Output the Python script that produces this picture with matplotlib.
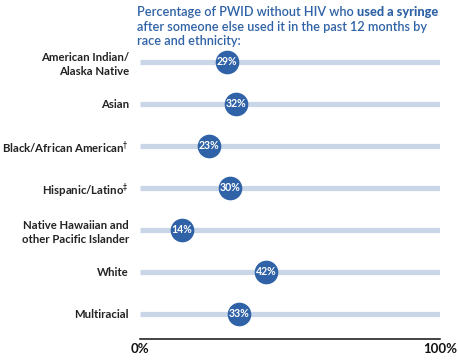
import matplotlib
matplotlib.use("Agg")
from matplotlib import pyplot as plt

plt.rcParams['font.family'] = ['Lato', 'DejaVu Sans']

groups = ["American Indian/\nAlaska Native", "Asian", "Black/African American$^{\u2020}$",
          "Hispanic/Latino$^{\u2021}$", "Native Hawaiian and\nother Pacific Islander",
          "White", "Multiracial"]
values = [29, 32, 23, 30, 14, 42, 33]
tick_pos = [0, 100]
tick_labels = ["0%", "100%"]

blue = '#2f62a6'
track = '#c9d6e7'

fig = plt.figure(figsize=(4.58, 3.6), dpi=100)
ax = fig.add_axes([140 / 458, 21 / 360, 300 / 458, 299 / 360])

rows = list(range(len(groups)))
for r, v in zip(rows, values):
    ax.plot([0, 100], [r, r], color=track, lw=3.8, solid_capstyle='butt', zorder=1)
ax.scatter(values, rows, s=290, color=blue, zorder=3, linewidths=0)
for r, v in zip(rows, values):
    ax.text(v, r, f"{v}%", color='white', fontsize=7.6, fontweight='bold',
            ha='center', va='center', zorder=4)

ax.set_xlim(0, 100)
ax.set_ylim(6.6, -0.52)
ax.set_yticks(rows)
ax.set_yticklabels(groups, fontsize=8.2, fontweight='bold', color='#222222', linespacing=1.3)
ax.set_xticks(tick_pos)
ax.set_xticklabels(tick_labels, fontsize=9.5, fontweight='bold', color='#111111')
ax.tick_params(axis='y', length=0, pad=8)
ax.tick_params(axis='x', length=0, pad=3)
for s in ['top', 'right', 'left']:
    ax.spines[s].set_visible(False)
ax.spines['bottom'].set_linewidth(1.1)
ax.spines['bottom'].set_color('#111111')

# title with bold segment
tkw = dict(fontsize=9.2, color=blue, fontweight='semibold')
t1 = fig.text(137 / 458, 1 - 12 / 360, "Percentage of PWID without HIV who ", va='center', **tkw)
ax.annotate("used a syringe", xy=(1, 0), xycoords=t1, va='bottom', ha='left',
            fontsize=9.2, color=blue, fontweight='black')
fig.text(137 / 458, 1 - 27 / 360, "after someone else used it in the past 12 months by",
         va='center', **tkw)
fig.text(137 / 458, 1 - 41 / 360, "race and ethnicity:", va='center', **tkw)

fig.savefig("out.png", dpi=100)
